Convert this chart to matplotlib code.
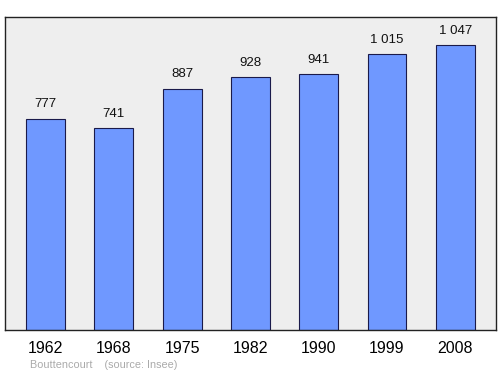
import matplotlib
matplotlib.use("Agg")
import matplotlib.pyplot as plt

plt.rcParams["font.family"] = ["Liberation Sans", "DejaVu Sans"]

years = ["1962", "1968", "1975", "1982", "1990", "1999", "2008"]
population = [777, 741, 887, 928, 941, 1015, 1047]
labels = ["777", "741", "887", "928", "941", "1 015", "1 047"]

fig = plt.figure(figsize=(5, 3.74), dpi=100)
ax = fig.add_axes([0.01, 0.1176, 0.982, 0.837])
ax.set_facecolor("#eeeeee")

x = range(len(years))
ax.bar(x, population, width=0.57, color="#6f98ff", edgecolor="#1a1a4a", linewidth=0.8)
for i, v in enumerate(population):
    ax.text(i, v + 30, labels[i], ha="center", va="bottom", fontsize=9.5, color="#111111")

ax.set_xlim(-0.593, 6.596)
ax.set_ylim(0, 1150)
ax.set_yticks([])
ax.set_xticks(list(x))
ax.set_xticklabels(years, fontsize=11.5)
ax.tick_params(axis="x", length=0, pad=8)
for s in ax.spines.values():
    s.set_linewidth(1.0)
    s.set_color("#222222")

fig.text(0.06, 0.016, "Bouttencourt    (source: Insee)", fontsize=7.8, color="#aaaaaa")

fig.savefig("out.png", dpi=100)
